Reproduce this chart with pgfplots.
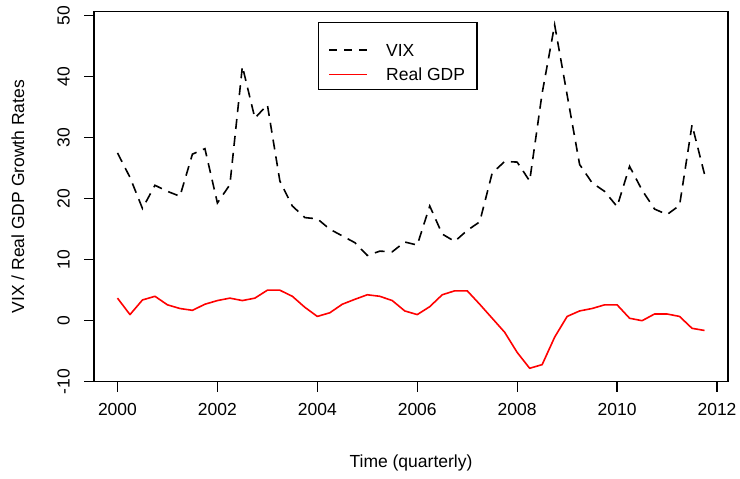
\documentclass[border=0pt]{standalone}
\usepackage{fontspec}
\setmainfont{Liberation Sans}
\usepackage{pgfplots}
\usepackage{pgfplotstable}
\pgfplotsset{compat=1.18}

\pgfplotstableread{
x vix gdp
2000.00 27.5 3.7
2000.25 23.5 1.0
2000.50 18.4 3.4
2000.75 22.2 4.0
2001.00 21.2 2.6
2001.25 20.4 2.0
2001.50 27.3 1.7
2001.75 28.2 2.7
2002.00 19.3 3.3
2002.25 22.3 3.7
2002.50 41.7 3.3
2002.75 33.2 3.7
2003.00 35.4 5.0
2003.25 22.9 5.0
2003.50 18.8 4.0
2003.75 16.9 2.2
2004.00 16.7 0.7
2004.25 15.0 1.3
2004.50 13.9 2.7
2004.75 12.8 3.5
2005.00 10.7 4.25
2005.25 11.4 4.0
2005.50 11.3 3.3
2005.75 12.9 1.6
2006.00 12.4 1.0
2006.25 18.8 2.3
2006.50 14.2 4.25
2006.75 13.0 4.9
2007.00 14.8 4.9
2007.25 16.2 2.7
2007.50 24.2 0.4
2007.75 26.1 -1.9
2008.00 26.0 -5.2
2008.25 22.9 -7.8
2008.50 37.3 -7.2
2008.75 48.5 -2.7
2009.00 37.0 0.7
2009.25 25.6 1.6
2009.50 22.6 2.0
2009.75 21.2 2.6
2010.00 18.7 2.6
2010.25 25.3 0.4
2010.50 21.4 0.0
2010.75 18.3 1.1
2011.00 17.4 1.1
2011.25 18.9 0.7
2011.50 32.1 -1.25
2011.75 24.0 -1.6
}\datatable

\begin{document}
\begin{tikzpicture}
\begin{axis}[
  scale only axis, width=634pt, height=370pt,
  xmin=1999.53, xmax=2012.22, ymin=-10, ymax=50.65,
  axis line style={line width=1.2pt},
  xtick={2000,2002,2004,2006,2008,2010,2012},
  xticklabels={2000,2002,2004,2006,2008,2010,2012},
  ytick={-10,0,10,20,30,40,50},
  yticklabels={-10,0,10,20,30,40,50},
  tick align=outside, major tick length=10pt,
  tick style={line width=1.2pt, black},
  xtick pos=bottom, ytick pos=left,
  ticklabel style={font=\fontsize{17.5}{21}\selectfont},
  xticklabel style={anchor=north, inner sep=0pt, yshift=-11pt},
  yticklabel style={xshift=-14pt, rotate=90, anchor=south, inner sep=0pt},
  label style={font=\fontsize{17.5}{21}\selectfont},
  xlabel={Time (quarterly)},
  ylabel={VIX / Real GDP Growth Rates},
  xlabel style={at={(axis description cs:0.5,-0.2197)}, anchor=center},
  ylabel style={at={(axis description cs:-0.1199,0.5)}, anchor=center, rotate=0},
  legend style={
    at={(0.3533,0.973)}, anchor=north west,
    draw=black, line width=1.2pt, fill=white,
    inner xsep=10pt, inner ysep=5.6pt,
    font=\fontsize{17.5}{21}\selectfont,
    row sep=-8pt, column sep=16pt,
    cells={anchor=base west, inner sep=0pt, text height=26.7pt, text depth=1.3pt},
  },
  legend image code/.code={\draw[#1] (0pt,6.3pt) -- (38pt,6.3pt);},
]
\addplot[black, line width=1.6pt, dash pattern=on 10pt off 7pt,
  legend image post style={dash pattern=on 8pt off 7pt}] table[x=x, y=vix] {\datatable};
\addlegendentry{VIX}
\addplot[red, line width=1.6pt, line join=round] table[x=x, y=gdp] {\datatable};
\addlegendentry{Real GDP}
\coordinate (bbA) at (rel axis cs:0,0);
\coordinate (bbB) at (rel axis cs:1,1);
\end{axis}
\pgfresetboundingbox
\path[use as bounding box] ([xshift=-94pt,yshift=-96.3pt]bbA) rectangle ([xshift=12pt,yshift=11.7pt]bbB);
\end{tikzpicture}
\end{document}
